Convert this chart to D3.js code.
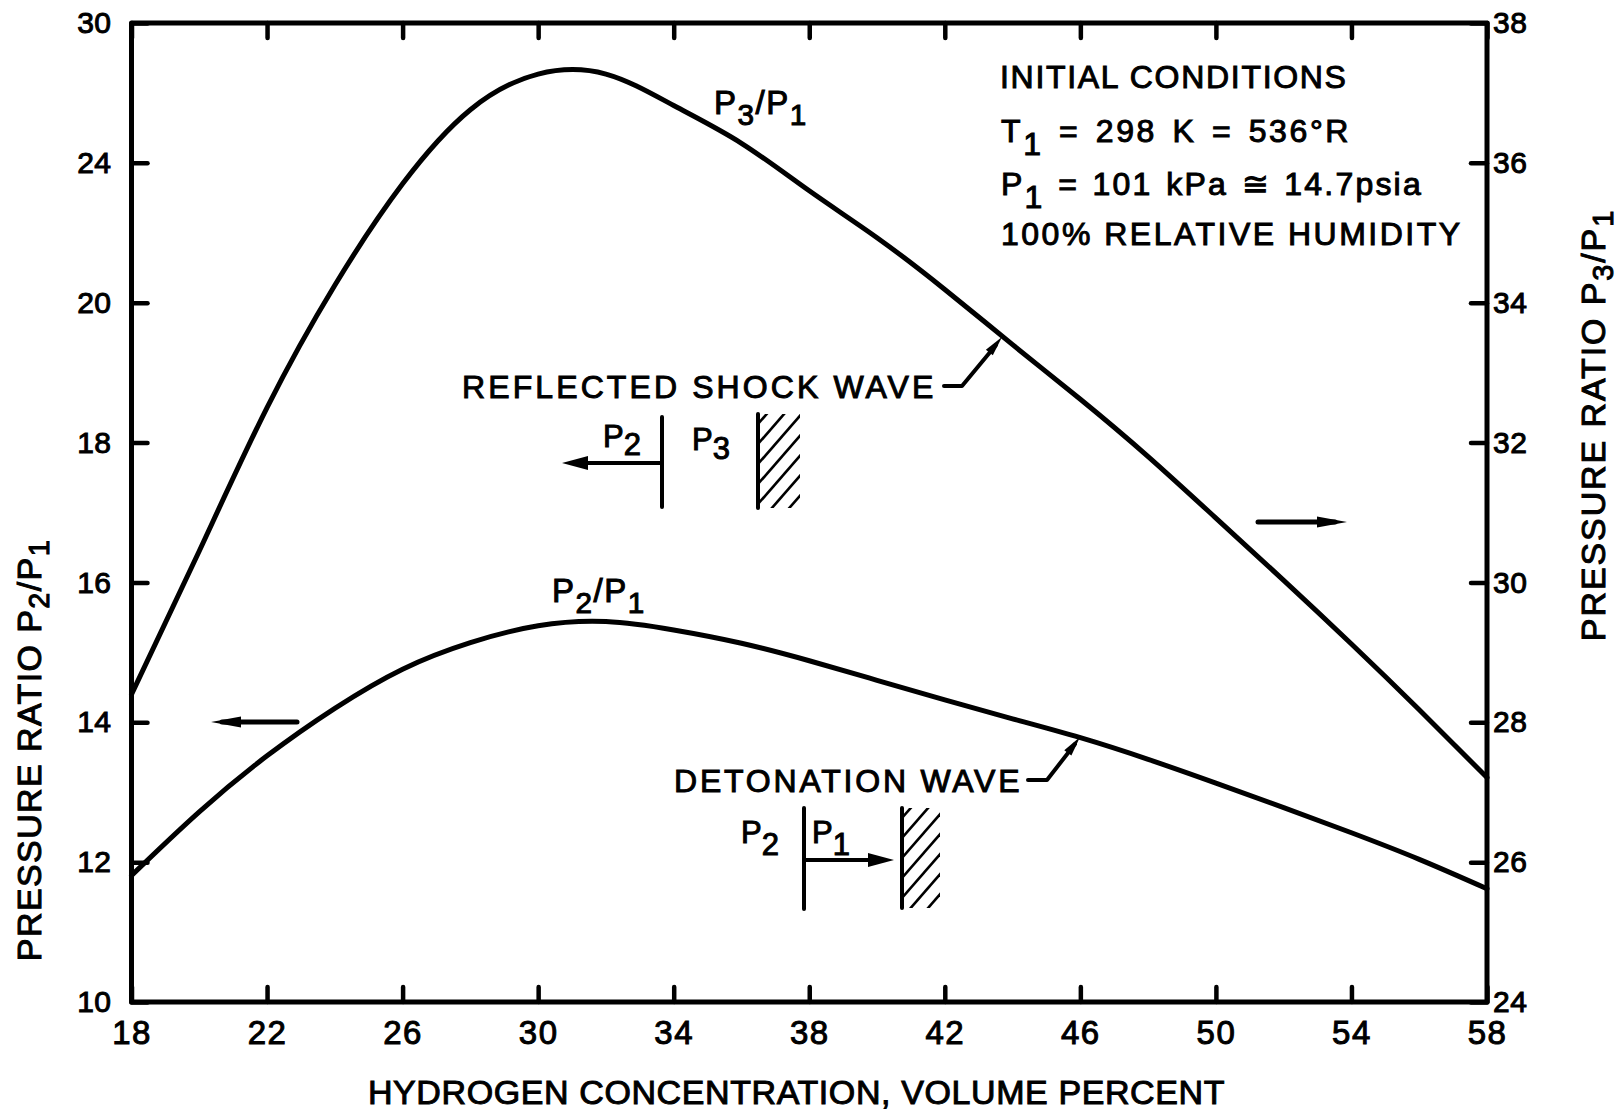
<!DOCTYPE html>
<html>
<head>
<meta charset="utf-8">
<script src="https://cdn.jsdelivr.net/npm/d3@7"></script>
<style>
  html, body { margin: 0; padding: 0; background: #fff; }
  svg { display: block; }
  text { font-family: "Liberation Sans", Arial, Helvetica, sans-serif; fill: #000; stroke: #000; stroke-width: 1px; }
</style>
</head>
<body>
<svg id="chart" width="1623" height="1114"></svg>
<script>
// ---------------- DATA ----------------
const hydrogenPct = [18, 20, 22, 24, 26, 28, 30, 32, 34, 36, 38, 40, 42, 44, 46, 48, 50, 52, 54, 56, 58];
// Reflected shock wave P3/P1 (right axis)
const ratioP3P1 = [28.40, 30.45, 32.50, 34.25, 35.70, 36.76, 37.27, 37.27, 36.82, 36.28, 35.60, 34.93, 34.19, 33.40, 32.62, 31.80, 30.92, 30.03, 29.12, 28.18, 27.21];
// Detonation wave P2/P1 (left axis)
const ratioP2P1 = [11.81, 12.72, 13.52, 14.20, 14.76, 15.14, 15.38, 15.44, 15.32, 15.13, 14.88, 14.60, 14.32, 14.05, 13.78, 13.47, 13.13, 12.78, 12.42, 12.04, 11.62];

const xTickValues = [18, 22, 26, 30, 34, 38, 42, 46, 50, 54, 58];
const leftTickValues = [10, 12, 14, 16, 18, 20, 22, 24];
const leftTickLabels = ["10", "12", "14", "16", "18", "20", "24", "30"];
const rightTickValues = [24, 26, 28, 30, 32, 34, 36, 38];
const rightTickLabels = ["24", "26", "28", "30", "32", "34", "36", "38"];

// ---------------- LAYOUT ----------------
const svg = d3.select("#chart");
const L = 131.5, R = 1487, T = 23, B = 1002;
const x = d3.scaleLinear().domain([18, 58]).range([L, R]);
const yL = d3.scaleLinear().domain([10, 24]).range([B, T]);
const yR = d3.scaleLinear().domain([24, 38]).range([B, T]);

function styleAxis(g, fontSize, ls) {
  g.select(".domain").remove();
  g.selectAll(".tick line").attr("stroke", "#000").attr("stroke-width", 4.5).attr("stroke-linecap", "round");
  g.selectAll(".tick text").attr("font-size", fontSize).attr("letter-spacing", ls || 0)
    .attr("font-family", null);
}

// axes with inward ticks
svg.append("g").attr("transform", `translate(0,${B})`)
  .call(d3.axisBottom(x).tickValues(xTickValues).tickSize(-15).tickPadding(19).tickFormat(d3.format("d")))
  .call(g => styleAxis(g, 33, 1.5));
svg.append("g").attr("transform", `translate(0,${T})`)
  .call(d3.axisTop(x).tickValues(xTickValues).tickSize(-15).tickFormat(""))
  .call(g => styleAxis(g, 30));
svg.append("g").attr("transform", `translate(${L},0)`)
  .call(d3.axisLeft(yL).tickValues(leftTickValues).tickSize(-16).tickPadding(20)
    .tickFormat((d, i) => leftTickLabels[i]))
  .call(g => styleAxis(g, 30, 0.5));
svg.append("g").attr("transform", `translate(${R},0)`)
  .call(d3.axisRight(yR).tickValues(rightTickValues).tickSize(-16).tickPadding(6)
    .tickFormat((d, i) => rightTickLabels[i]))
  .call(g => styleAxis(g, 30, 0.5));

// frame
svg.append("rect").attr("x", L).attr("y", T).attr("width", R - L).attr("height", B - T)
  .attr("fill", "none").attr("stroke", "#000").attr("stroke-width", 5).attr("stroke-linejoin", "round");

// curves
const lineP3 = d3.line().x((d, i) => x(hydrogenPct[i])).y(d => yR(d)).curve(d3.curveNatural);
const lineP2 = d3.line().x((d, i) => x(hydrogenPct[i])).y(d => yL(d)).curve(d3.curveNatural);
svg.append("path").attr("d", lineP3(ratioP3P1)).attr("fill", "none").attr("stroke", "#000")
  .attr("stroke-width", 5).attr("stroke-linejoin", "round").attr("stroke-linecap", "round");
svg.append("path").attr("d", lineP2(ratioP2P1)).attr("fill", "none").attr("stroke", "#000")
  .attr("stroke-width", 5).attr("stroke-linejoin", "round").attr("stroke-linecap", "round");

// ---------------- TEXT HELPERS ----------------
// segs: array of [string, isSub]
function rich(parent, xPos, yPos, segs, opts) {
  const o = Object.assign({ size: 32, ls: 0, ws: 0, anchor: "start", sub: 11, subScale: 0.88, transform: null }, opts || {});
  const t = parent.append("text").attr("font-size", o.size).attr("letter-spacing", o.ls)
    .attr("word-spacing", o.ws).attr("text-anchor", o.anchor);
  if (o.transform) t.attr("transform", o.transform); else t.attr("x", xPos).attr("y", yPos);
  let lowered = false;
  segs.forEach(([s, isSub]) => {
    const ts = t.append("tspan").text(s);
    if (isSub && !lowered) { ts.attr("dy", o.sub).attr("font-size", o.size * o.subScale); lowered = true; }
    else if (isSub) { ts.attr("font-size", o.size * o.subScale); }
    else if (!isSub && lowered) { ts.attr("dy", -o.sub); lowered = false; }
  });
  return t;
}

// axis titles
svg.append("text").attr("x", (369 + 1224) / 2).attr("y", 1104).attr("text-anchor", "middle")
  .attr("font-size", 34).attr("letter-spacing", 0.6).text("HYDROGEN CONCENTRATION, VOLUME PERCENT");
rich(svg, 0, 0, [["PRESSURE RATIO P", false], ["2", true], ["/P", false], ["1", true]],
  { size: 34, ls: 1.4, anchor: "middle", sub: 8, subScale: 0.85, transform: "translate(41,750) rotate(-90)" });
rich(svg, 0, 0, [["PRESSURE  RATIO P", false], ["3", true], ["/P", false], ["1", true]],
  { size: 34, ls: 1.9, anchor: "middle", sub: 8, subScale: 0.85, transform: "translate(1605,425) rotate(-90)" });

// initial conditions
svg.append("text").attr("x", 1000).attr("y", 88).attr("font-size", 32).attr("letter-spacing", 1.7).text("INITIAL CONDITIONS");
rich(svg, 1001, 142, [["T", false], ["1", true], [" = 298 K = 536°R", false]], { size: 32, ls: 2.6, ws: 4, sub: 13, subScale: 1 });
rich(svg, 1001, 195, [["P", false], ["1", true], [" = 101 kPa ≅ 14.7psia", false]], { size: 32, ls: 2.2, ws: 2.5, sub: 13, subScale: 1 });
svg.append("text").attr("x", 1001).attr("y", 245).attr("font-size", 32).attr("letter-spacing", 2.5).text("100% RELATIVE HUMIDITY");

// curve labels
rich(svg, 714, 114, [["P", false], ["3", true], ["/P", false], ["1", true]], { size: 33, ls: 1.5, sub: 11, subScale: 0.9 });
rich(svg, 552, 602, [["P", false], ["2", true], ["/P", false], ["1", true]], { size: 33, ls: 1.5, sub: 11, subScale: 0.9 });

// annotation labels
svg.append("text").attr("x", 462).attr("y", 398).attr("font-size", 32).attr("letter-spacing", 3.1).text("REFLECTED SHOCK WAVE");
svg.append("text").attr("x", 674).attr("y", 792).attr("font-size", 32).attr("letter-spacing", 2.8).text("DETONATION WAVE");

// ---------------- ANNOTATION GRAPHICS ----------------
function arrowHead(g, x1, y1, x2, y2, len, half) {
  const a = Math.atan2(y2 - y1, x2 - x1);
  const bx = x2 - len * Math.cos(a), by = y2 - len * Math.sin(a);
  const px = -Math.sin(a) * half, py = Math.cos(a) * half;
  g.append("path").attr("d", `M${x2},${y2}L${bx + px},${by + py}L${bx - px},${by - py}Z`).attr("fill", "#000");
}
function seg(g, pts, w) {
  g.append("path").attr("d", d3.line()(pts)).attr("fill", "none").attr("stroke", "#000")
    .attr("stroke-width", w).attr("stroke-linecap", "round").attr("stroke-linejoin", "round");
}
const ann = svg.append("g");

// axis-direction arrows
seg(ann, [[297, 722], [222, 722]], 5);
arrowHead(ann, 297, 722, 211, 722, 30, 5.5);
seg(ann, [[1258, 522], [1335, 522]], 5);
arrowHead(ann, 1258, 522, 1347, 522, 30, 5.5);

// leaders
seg(ann, [[944, 386], [962, 386], [996, 345]], 4);
arrowHead(ann, 962, 386, 1002, 337, 20, 4.5);
seg(ann, [[1028, 780], [1047, 780], [1075, 744]], 4);
arrowHead(ann, 1047, 780, 1080, 737, 20, 4.5);

// hatched wall helper
let clipId = 0;
function wall(g, wx, y0, y1, w) {
  seg(g, [[wx, y0], [wx, y1]], 4);
  const id = "clipw" + (clipId++);
  svg.append("clipPath").attr("id", id).append("rect").attr("x", wx).attr("y", y0).attr("width", w).attr("height", y1 - y0);
  const hg = g.append("g").attr("clip-path", `url(#${id})`);
  for (let yy = y0 + 10; yy < y1 + 50; yy += 20) {
    hg.append("line").attr("x1", wx).attr("y1", yy).attr("x2", wx + w + 4).attr("y2", yy - (w + 4) * 1.15)
      .attr("stroke", "#000").attr("stroke-width", 2.6);
  }
}

// reflected shock diagram
seg(ann, [[662, 417], [662, 507]], 4);
seg(ann, [[662, 463], [585, 463]], 4);
arrowHead(ann, 662, 463, 562, 463, 26, 7);
rich(svg, 603, 447, [["P", false], ["2", true]], { size: 31, sub: 8, subScale: 1 });
rich(svg, 692, 450, [["P", false], ["3", true]], { size: 31, sub: 9, subScale: 1 });
wall(ann, 758, 414, 508, 42);

// detonation diagram
seg(ann, [[804, 808], [804, 909]], 4);
seg(ann, [[805, 860], [872, 860]], 4);
arrowHead(ann, 805, 860, 894, 860, 26, 7);
rich(svg, 741, 843, [["P", false], ["2", true]], { size: 31, sub: 12, subScale: 1 });
rich(svg, 812, 843, [["P", false], ["1", true]], { size: 31, sub: 12, subScale: 1 });
wall(ann, 902, 808, 908, 38);
</script>
</body>
</html>
